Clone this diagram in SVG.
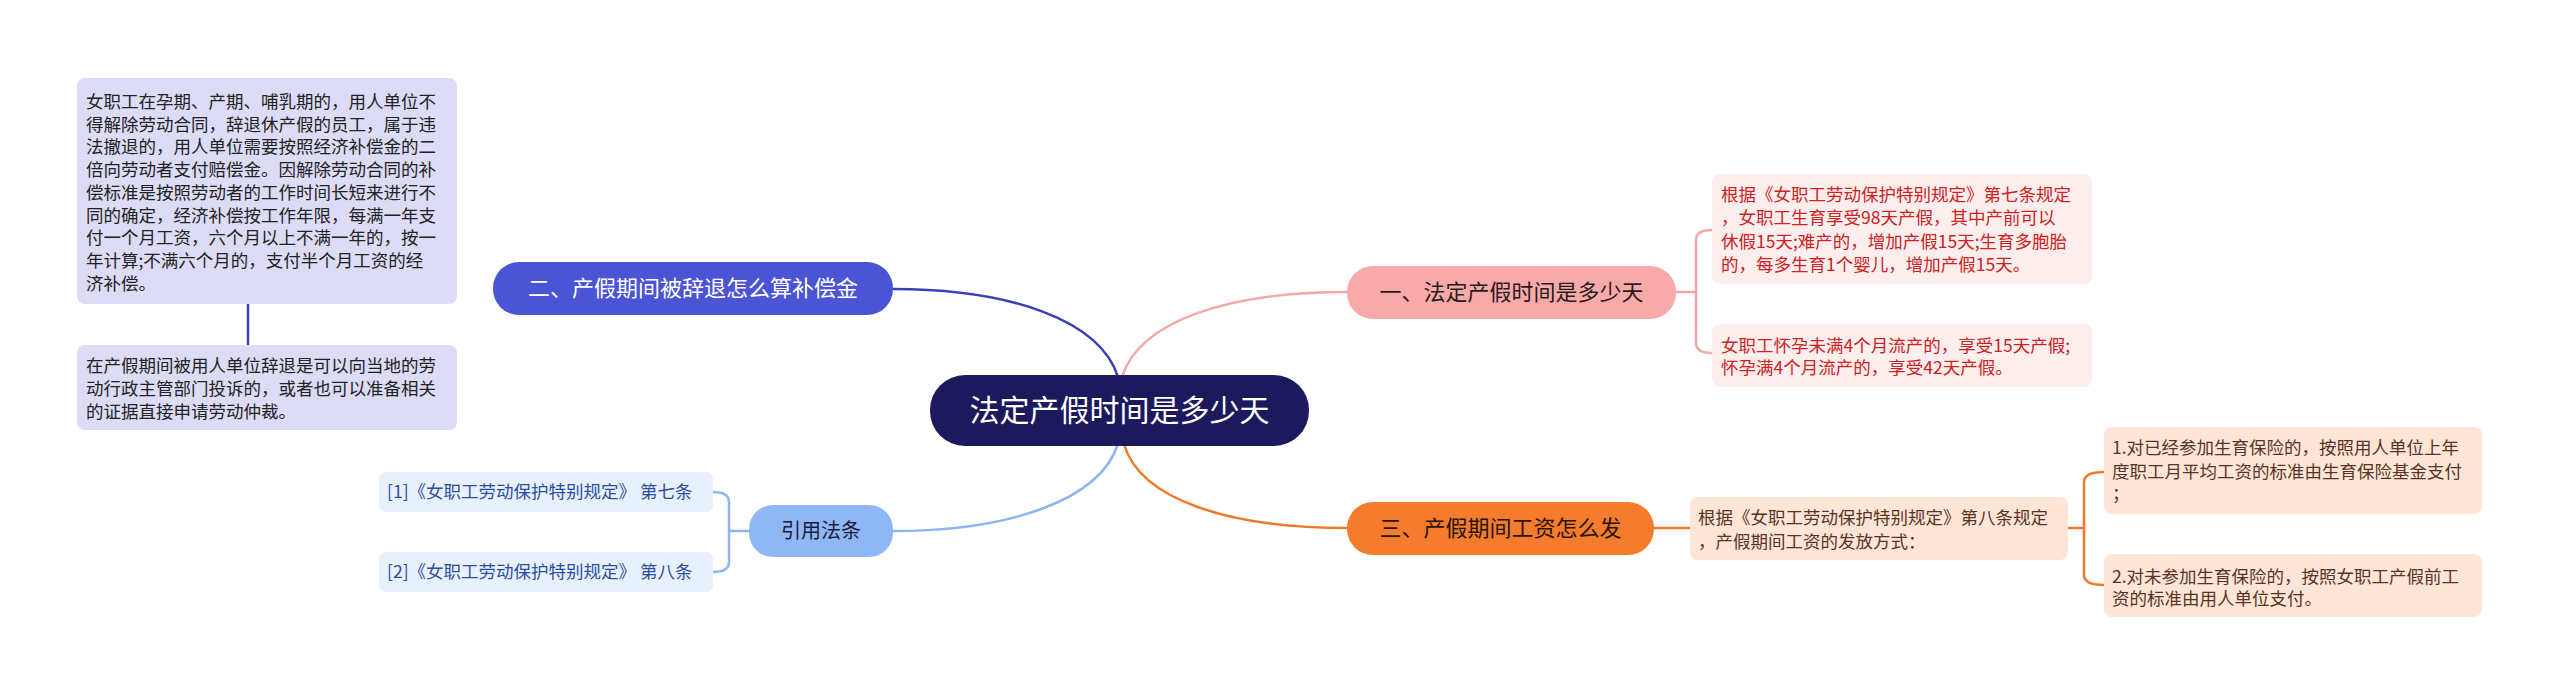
<svg xmlns="http://www.w3.org/2000/svg" width="2560" height="696" viewBox="0 0 2560 696">
<style>
text{font-family:"Noto Sans CJK SC","Noto Sans",sans-serif}
.t{font-size:17.5px}
.c{fill:none;stroke-width:2.5}
</style>
<rect width="2560" height="696" fill="#fff"/>
<g id="connectors">
<path class="c" stroke="#3b40b8" d="M1118 377 C1100 320 1010 289 893 289"/>
<path class="c" stroke="#f4a9a9" d="M1122 377 C1140 320 1230 292 1347 292"/>
<path class="c" stroke="#8fb5f0" d="M1118 444 C1100 500 1010 531 893 531"/>
<path class="c" stroke="#f07a2a" d="M1124 444 C1140 500 1230 528 1347 528"/>
<path class="c" stroke="#3b40b8" d="M258 289 H248 M240 190 Q248 190 248 200 V380 Q248 390 240 390"/>
<path class="c" stroke="#8fb5f0" d="M749 531 H729 M713 492 Q729 492 729 502 V562 Q729 572 713 572"/>
<path class="c" stroke="#f4a9a9" d="M1676 292 H1696 M1712 230 Q1696 230 1696 240 V343 Q1696 353 1712 353"/>
<path class="c" stroke="#f07a2a" d="M1654 528 H1690 M2068 528 H2084 M2104 472 Q2084 472 2084 482 V575 Q2084 585 2104 585"/>
</g>
<g id="center">
<rect x="930" y="375" width="379" height="71" rx="35" fill="#1c1a5c"/>
<text x="1119.5" y="421" font-size="30" fill="#fff" text-anchor="middle">法定产假时间是多少天</text>
</g>
<g id="n2">
<rect x="493" y="262" width="400" height="53" rx="26" fill="#4a54d4"/>
<text x="693" y="296" font-size="22" fill="#fff" text-anchor="middle">二、产假期间被辞退怎么算补偿金</text>
</g>
<g id="n2a">
<rect x="77" y="78" width="380" height="226" rx="8" fill="#dcdcf7"/>
<text class="t" fill="#222">
<tspan x="86" y="108">女职工在孕期、产期、哺乳期的，用人单位不</tspan>
<tspan x="86" y="130.7">得解除劳动合同，辞退休产假的员工，属于违</tspan>
<tspan x="86" y="153.4">法撤退的，用人单位需要按照经济补偿金的二</tspan>
<tspan x="86" y="176.1">倍向劳动者支付赔偿金。因解除劳动合同的补</tspan>
<tspan x="86" y="198.8">偿标准是按照劳动者的工作时间长短来进行不</tspan>
<tspan x="86" y="221.5">同的确定，经济补偿按工作年限，每满一年支</tspan>
<tspan x="86" y="244.2">付一个月工资，六个月以上不满一年的，按一</tspan>
<tspan x="86" y="266.9">年计算;不满六个月的，支付半个月工资的经</tspan>
<tspan x="86" y="289.6">济补偿。</tspan>
</text>
</g>
<g id="n2b">
<rect x="77" y="345" width="380" height="85" rx="8" fill="#dcdcf7"/>
<text class="t" fill="#222">
<tspan x="86" y="372">在产假期间被用人单位辞退是可以向当地的劳</tspan>
<tspan x="86" y="395">动行政主管部门投诉的，或者也可以准备相关</tspan>
<tspan x="86" y="418">的证据直接申请劳动仲裁。</tspan>
</text>
</g>
<g id="ref">
<rect x="749" y="505" width="144" height="52" rx="24" fill="#8fb7f6"/>
<text x="821" y="538" font-size="20" fill="#1c1c3a" text-anchor="middle">引用法条</text>
</g>
<g id="ref1">
<rect x="379" y="472" width="334" height="40" rx="7" fill="#e8f0fc"/>
<text x="387" y="498" class="t" fill="#2a4f9e">[1]《女职工劳动保护特别规定》 第七条</text>
</g>
<g id="ref2">
<rect x="379" y="552" width="334" height="40" rx="7" fill="#e8f0fc"/>
<text x="387" y="578" class="t" fill="#2a4f9e">[2]《女职工劳动保护特别规定》 第八条</text>
</g>
<g id="n1">
<rect x="1347" y="266" width="329" height="53" rx="26" fill="#f8aaaa"/>
<text x="1511.5" y="300" font-size="22" fill="#2a1a1a" text-anchor="middle">一、法定产假时间是多少天</text>
</g>
<g id="n1a">
<rect x="1712" y="174" width="380" height="110" rx="8" fill="#fdeeee"/>
<text class="t" fill="#cc2222">
<tspan x="1721" y="201">根据《女职工劳动保护特别规定》第七条规定</tspan>
<tspan x="1721" y="224">，女职工生育享受98天产假，其中产前可以</tspan>
<tspan x="1721" y="248">休假15天;难产的，增加产假15天;生育多胞胎</tspan>
<tspan x="1721" y="271">的，每多生育1个婴儿，增加产假15天。</tspan>
</text>
</g>
<g id="n1b">
<rect x="1712" y="324" width="380" height="63" rx="8" fill="#fdeeee"/>
<text class="t" fill="#cc2222">
<tspan x="1721" y="352">女职工怀孕未满4个月流产的，享受15天产假;</tspan>
<tspan x="1721" y="374">怀孕满4个月流产的，享受42天产假。</tspan>
</text>
</g>
<g id="n3">
<rect x="1347" y="502" width="307" height="53" rx="26" fill="#f47c2c"/>
<text x="1500.5" y="536" font-size="22" fill="#2a1408" text-anchor="middle">三、产假期间工资怎么发</text>
</g>
<g id="n3a">
<rect x="1690" y="497" width="378" height="63" rx="8" fill="#fde6d8"/>
<text class="t" fill="#5a3322">
<tspan x="1698" y="524">根据《女职工劳动保护特别规定》第八条规定</tspan>
<tspan x="1698" y="548">，产假期间工资的发放方式：</tspan>
</text>
</g>
<g id="n3b">
<rect x="2104" y="427" width="378" height="87" rx="8" fill="#fde6d8"/>
<text class="t" fill="#5a3322">
<tspan x="2112" y="454">1.对已经参加生育保险的，按照用人单位上年</tspan>
<tspan x="2112" y="478">度职工月平均工资的标准由生育保险基金支付</tspan>
<tspan x="2112" y="500">；</tspan>
</text>
</g>
<g id="n3c">
<rect x="2104" y="554" width="378" height="63" rx="8" fill="#fde6d8"/>
<text class="t" fill="#5a3322">
<tspan x="2112" y="583">2.对未参加生育保险的，按照女职工产假前工</tspan>
<tspan x="2112" y="605">资的标准由用人单位支付。</tspan>
</text>
</g>
</svg>
